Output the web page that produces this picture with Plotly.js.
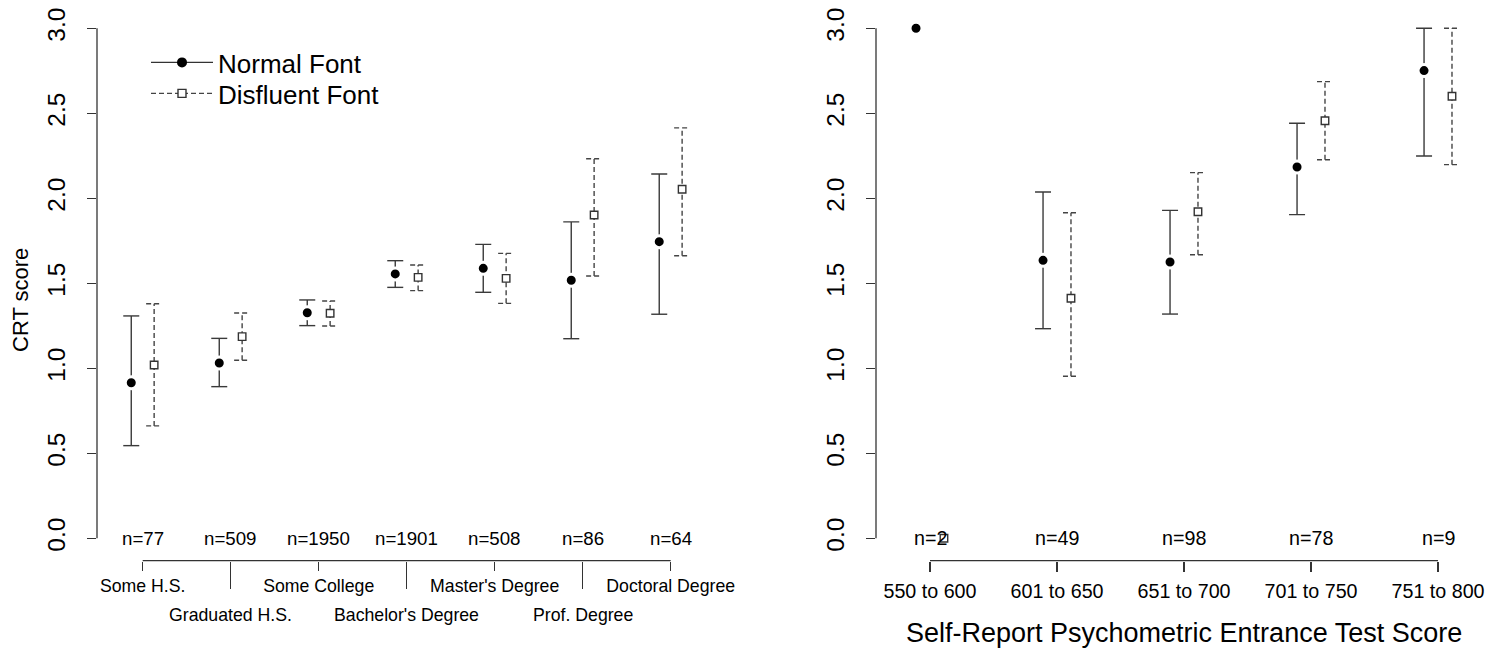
<!DOCTYPE html>
<html>
<head>
<meta charset="utf-8">
<script src="https://cdn.plot.ly/plotly-3.0.1.min.js"></script>
<style>html,body{margin:0;padding:0;background:#fff;}#chart{width:1503px;height:649px;}</style>
</head>
<body>
<div id="chart"></div>
<script>
// ---- Data: education panel ----
const eduCats = ["Some H.S.", "Graduated H.S.", "Some College", "Bachelor's Degree", "Master's Degree", "Prof. Degree", "Doctoral Degree"];
const eduN = ["n=77", "n=509", "n=1950", "n=1901", "n=508", "n=86", "n=64"];
const eduNormalMean = [0.915, 1.031, 1.327, 1.555, 1.588, 1.518, 1.745];
const eduNormalLo   = [0.545, 0.892, 1.251, 1.476, 1.447, 1.174, 1.318];
const eduNormalHi   = [1.308, 1.176, 1.402, 1.633, 1.729, 1.861, 2.143];
const eduDisMean    = [1.019, 1.186, 1.324, 1.535, 1.529, 1.902, 2.053];
const eduDisLo      = [0.661, 1.047, 1.249, 1.457, 1.382, 1.543, 1.662];
const eduDisHi      = [1.380, 1.325, 1.396, 1.608, 1.676, 2.233, 2.414];

// ---- Data: psychometric test panel ----
const testCats = ["550 to 600", "601 to 650", "651 to 700", "701 to 750", "751 to 800"];
const testN = ["n=2", "n=49", "n=98", "n=78", "n=9"];
const testNormalMean = [3.0, 1.635, 1.625, 2.184, 2.751];
const testNormalLo   = [null, 1.233, 1.319, 1.904, 2.249];
const testNormalHi   = [null, 2.037, 1.929, 2.441, 3.0];
const testDisMean    = [0.0, 1.412, 1.921, 2.456, 2.600];
const testDisLo      = [null, 0.953, 1.668, 2.227, 2.198];
const testDisHi      = [null, 1.915, 2.151, 2.686, 3.0];

const yTicks = [0, 0.5, 1, 1.5, 2, 2.5, 3];
const yTickText = ["0.0", "0.5", "1.0", "1.5", "2.0", "2.5", "3.0"];
const legendNames = ["Normal Font", "Disfluent Font"];
const xTitleRight = "Self-Report Psychometric Entrance Test Score";
const yTitleLeft = "CRT score";

// ---- helpers ----
const FONT = "Liberation Sans, Arial, sans-serif";
const AX = "#333";
const W = 1503, H = 649;
const DASH = "5px,3px";

function pos(n, off) { return Array.from({length: n}, (_, i) => i + 1 + off); }

function ciTrace(mean, lo, hi, off, xa, ya, capU, dash, color) {
  const xs = [], ys = [];
  const x = pos(mean.length, off);
  for (let i = 0; i < mean.length; i++) {
    if (lo[i] == null || hi[i] == null) continue;
    xs.push(x[i], x[i], null, x[i] - capU, x[i] + capU, null, x[i] - capU, x[i] + capU, null);
    ys.push(lo[i], hi[i], null, lo[i], lo[i], null, hi[i], hi[i], null);
  }
  return {
    type: "scatter", mode: "lines", x: xs, y: ys, xaxis: xa, yaxis: ya, showlegend: false,
    line: {color: color, width: 1.4, dash: dash}, hoverinfo: "skip"
  };
}

function normalMarkers(mean, off, xa, ya) {
  return {
    type: "scatter", mode: "markers", x: pos(mean.length, off), y: mean, xaxis: xa, yaxis: ya, showlegend: false,
    marker: {symbol: "circle", size: 12, color: "#000", line: {color: "#fff", width: 3}},
    hoverinfo: "skip"
  };
}

function disMarkers(mean, off, xa, ya) {
  return {
    type: "scatter", mode: "markers", x: pos(mean.length, off), y: mean, xaxis: xa, yaxis: ya, showlegend: false,
    marker: {symbol: "square", size: 7.5, color: "#fff", line: {color: "#333", width: 1.4}},
    hoverinfo: "skip"
  };
}

const offL = 0.13, offR = 0.11;
const capL = 8 / 88, capR = 8 / 127;

const traces = [
  ciTrace(eduNormalMean, eduNormalLo, eduNormalHi, -offL, "x", "y", capL, "solid", "#3a3a3a"),
  normalMarkers(eduNormalMean, -offL, "x", "y"),
  ciTrace(eduDisMean, eduDisLo, eduDisHi, offL, "x", "y", capL, DASH, "#444"),
  disMarkers(eduDisMean, offL, "x", "y"),
  ciTrace(testNormalMean, testNormalLo, testNormalHi, -offR, "x2", "y2", capR, "solid", "#3a3a3a"),
  normalMarkers(testNormalMean, -offR, "x2", "y2"),
  ciTrace(testDisMean, testDisLo, testDisHi, offR, "x2", "y2", capR, DASH, "#444"),
  disMarkers(testDisMean, offR, "x2", "y2"),
  // legend entries
  {type: "scatter", mode: "lines+markers", x: [null], y: [null], name: legendNames[0], xaxis: "x", yaxis: "y", legend: "legend",
   line: {color: "#333", width: 1.4}, marker: {symbol: "circle", size: 10, color: "#000"}},
  {type: "scatter", mode: "lines+markers", x: [null], y: [null], name: legendNames[1], xaxis: "x", yaxis: "y", legend: "legend2",
   line: {color: "#444", width: 1.4, dash: DASH}, marker: {symbol: "square", size: 8, color: "#fff", line: {color: "#333", width: 1.4}}}
];

const yDom = [(H - 560.7) / H, (H - 10) / H];
const yRange = [-0.1318, 3.1076];

const yAxisCommon = {
  domain: yDom, range: yRange, tickvals: yTicks, ticktext: yTickText, tickangle: -90,
  ticks: "outside", ticklen: 9, tickwidth: 1.3, tickcolor: AX,
  showgrid: false, zeroline: false, showline: false, ticklabelstandoff: 12,
  tickfont: {family: FONT, size: 24.5, color: "#000"}
};

const eduOddVals = [], eduOddText = [], eduEvenVals = [];
eduCats.forEach((c, i) => { if (i % 2 === 0) { eduOddVals.push(i + 1); eduOddText.push(c); } else { eduEvenVals.push(i + 1); } });

const annotations = [];
eduN.forEach((t, i) => annotations.push({x: i + 1, y: 0, xref: "x", yref: "y", text: t, showarrow: false,
  xanchor: "center", yanchor: "middle", font: {family: FONT, size: 18.7, color: "#000"}}));
eduCats.forEach((c, i) => { if (i % 2 === 1) annotations.push({x: i + 1, y: (H - 615) / H, xref: "x", yref: "paper", text: c, showarrow: false,
  xanchor: "center", yanchor: "middle", font: {family: FONT, size: 17.7, color: "#000"}}); });
testN.forEach((t, i) => annotations.push({x: i + 1, y: 0, xref: "x2", yref: "y2", text: t, showarrow: false,
  xanchor: "center", yanchor: "middle", font: {family: FONT, size: 19.7, color: "#000"}}));
annotations.push({x: 20 / W, y: (H - 300) / H, xref: "paper", yref: "paper", text: yTitleLeft, textangle: -90, showarrow: false,
  xanchor: "center", yanchor: "middle", font: {family: FONT, size: 22, color: "#000"}});
annotations.push({x: (testCats.length + 1) / 2, y: (H - 633) / H, xref: "x2", yref: "paper", text: xTitleRight, showarrow: false,
  xanchor: "center", yanchor: "middle", font: {family: FONT, size: 27, color: "#000"}});

const shapes = [
  {type: "line", xref: "x", yref: "y domain", x0: 1, x1: eduCats.length, y0: 0, y1: 0, line: {color: AX, width: 1.3}},
  {type: "line", xref: "x2", yref: "y2 domain", x0: 1, x1: testCats.length, y0: 0, y1: 0, line: {color: AX, width: 1.3}},
  {type: "line", xref: "x domain", yref: "y", x0: 0, x1: 0, y0: 0, y1: 3, line: {color: AX, width: 1.3}},
  {type: "line", xref: "x2 domain", yref: "y2", x0: 0, x1: 0, y0: 0, y1: 3, line: {color: AX, width: 1.3}}
];

const legendCommon = {xanchor: "left", yanchor: "top", bgcolor: "rgba(0,0,0,0)",
  font: {family: FONT, size: 26, color: "#000"}, itemwidth: 62, tracegroupgap: 0};

const layout = {
  width: W, height: H, margin: {l: 0, r: 0, t: 0, b: 0},
  paper_bgcolor: "#fff", plot_bgcolor: "rgba(0,0,0,0)",
  font: {family: FONT, color: "#000"},
  showlegend: true,
  legend: Object.assign({x: 146 / W, y: (H - 39) / H}, legendCommon),
  legend2: Object.assign({x: 146 / W, y: (H - 70) / H}, legendCommon),
  xaxis: {
    domain: [97 / W, 760 / W], range: [0.4807, 8.015], anchor: "y",
    tickvals: eduOddVals, ticktext: eduOddText, ticks: "outside", ticklen: 9, tickwidth: 1.3, tickcolor: AX,
    minor: {tickvals: eduEvenVals, ticks: "outside", ticklen: 27, tickwidth: 1.3, tickcolor: AX, showgrid: false},
    showgrid: false, zeroline: false, showline: false,
    tickfont: {family: FONT, size: 17.7, color: "#000"}
  },
  yaxis: Object.assign({anchor: "x"}, yAxisCommon),
  xaxis2: {
    domain: [876 / W, 1500 / W], range: [0.5748, 5.488], anchor: "y2",
    tickvals: testCats.map((c, i) => i + 1), ticktext: testCats, ticks: "outside", ticklen: 10, tickwidth: 1.3, tickcolor: AX,
    showgrid: false, zeroline: false, showline: false, ticklabelstandoff: 3,
    tickfont: {family: FONT, size: 19.7, color: "#000"}
  },
  yaxis2: Object.assign({anchor: "x2"}, yAxisCommon),
  annotations: annotations,
  shapes: shapes
};

Plotly.newPlot("chart", traces, layout, {displayModeBar: false, staticPlot: true});
</script>
</body>
</html>
